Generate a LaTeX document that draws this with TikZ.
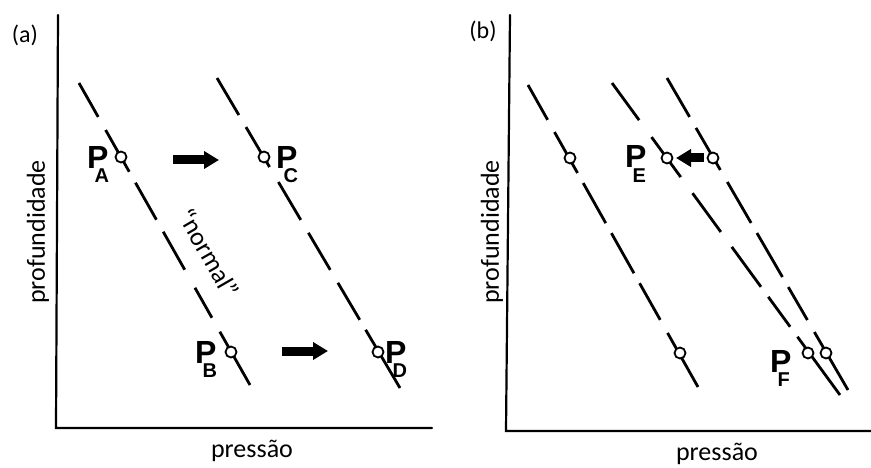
\documentclass[tikz,border=0pt]{standalone}
\usepackage{fontspec}
\setmainfont{Carlito}
\newfontfamily\labelfont{Liberation Sans}
\usetikzlibrary{arrows.meta}

% point label: bold P with a subscript tucked under its bowl
\newcommand{\plab}[1]{{\labelfont\bfseries\fontsize{32}{32}\selectfont P\kern-14pt\raisebox{-14pt}{\fontsize{20}{20}\selectfont #1}}}

\tikzset{
  axisline/.style={line width=2.2pt, line cap=round},
  gradline/.style={line width=2.8pt},
  pt/.style={circle, draw, fill=white, line width=1.8pt, minimum size=11pt, inner sep=0pt},
  blockarrow/.style={line width=9pt, -{Triangle[length=15pt,width=17pt]}},
  plabel/.style={anchor=base west, inner sep=0pt},
  axtext/.style={font=\fontsize{26}{26}\selectfont, inner sep=0pt},
  tagtext/.style={font=\fontsize{24}{24}\selectfont, inner sep=0pt},
}

\begin{document}
\begin{tikzpicture}[x=1pt,y=-1pt]
\useasboundingbox (0,0) rectangle (871,468);

% ---------- panel (a) ----------
\coordinate (aO) at (56,428);
\coordinate (aY) at (58,15);
\coordinate (aX) at (432,428);
\draw[axisline] (aY) -- (aO) -- (aX);
\node[tagtext] (tagA) at (25,35) {(a)};
\node[axtext, rotate=90] (ylabA) at (38,232) {profundidade};
\node[axtext] (xlabA) at (252,451) {pressão};

% normal gradient and the shifted one (hand-spaced dashes)
\coordinate (l1s) at (79,83);  \coordinate (l1e) at (250,385);
\coordinate (l2s) at (217,78); \coordinate (l2e) at (400,388);
\draw[gradline, dash pattern=on 39pt off 15pt on 48pt off 12.6pt on 42.5pt off 13.8pt
      on 43.7pt off 20.7pt on 34.5pt off 16pt on 70pt off 10pt] (l1s) -- (l1e);
\draw[gradline, dash pattern=on 43pt off 14pt on 46.4pt off 17.4pt on 44pt off 15pt
      on 43pt off 15pt on 43pt off 11.6pt on 75pt off 10pt] (l2s) -- (l2e);
\node[axtext, rotate=-60] (normal) at (209,253) {“normal”};

\node[pt] (PA) at (121,157) {};
\node[pt] (PB) at (231,352) {};
\node[pt] (PC) at (264,157) {};
\node[pt] (PD) at (378,352) {};
\node[plabel] (labA) at (87,169) {\plab{A}};
\node[plabel] (labC) at (276,169) {\plab{C}};
\node[plabel] (labB) at (195,363) {\plab{B}};
\node[plabel] (labD) at (385,363) {\plab{D}};

\coordinate (ar1s) at (173,160); \coordinate (ar1e) at (219,160);
\coordinate (ar2s) at (282,351); \coordinate (ar2e) at (328,351);
\draw[blockarrow] (ar1s) -- (ar1e);
\draw[blockarrow] (ar2s) -- (ar2e);

% ---------- panel (b) ----------
\coordinate (bO) at (506,431);
\coordinate (bY) at (510,15);
\coordinate (bX) at (871,431);
\draw[axisline] (bY) -- (bO) -- (bX);
\node[tagtext] (tagB) at (483,31) {(b)};
\node[axtext, rotate=90] (ylabB) at (492,232) {profundidade};
\node[axtext] (xlabB) at (717,454) {pressão};

\coordinate (m1s) at (528,85);  \coordinate (m1e) at (698,387);
\coordinate (m2s) at (612,83);  \coordinate (m2e) at (840,395);
\coordinate (m3s) at (667,78);  \coordinate (m3e) at (848,390);
\draw[gradline, dash pattern=on 40pt off 14pt on 47pt off 11.5pt on 46pt off 11.5pt
      on 46pt off 11.5pt on 42pt off 15pt on 70pt off 10pt] (m1s) -- (m1e);
\draw[gradline, dash pattern=on 46pt off 21pt on 49.5pt off 20pt on 48pt off 18.5pt
      on 49.5pt off 12.4pt on 37pt off 12.4pt on 80pt off 10pt] (m2s) -- (m2e);
\draw[gradline, dash pattern=on 45pt off 12.7pt on 48.6pt off 13.9pt on 47.4pt off 11.6pt
      on 50.9pt off 11.6pt on 38.1pt off 13.9pt on 75pt off 10pt] (m3s) -- (m3e);

\node[pt] (Q1) at (570,158) {};
\node[pt] (Q2) at (680,353) {};
\node[pt] (PE) at (667,158) {};
\node[pt] (PF) at (808,353) {};
\node[pt] (R1) at (713,158) {};
\node[pt] (R2) at (826,353) {};
\node[plabel] (labE) at (625,168) {\plab{E}};
\node[plabel] (labF) at (770,372) {\plab{F}};

\coordinate (ar3s) at (704,158); \coordinate (ar3e) at (676,158);
\draw[blockarrow] (ar3s) -- (ar3e);
\end{tikzpicture}
\end{document}
